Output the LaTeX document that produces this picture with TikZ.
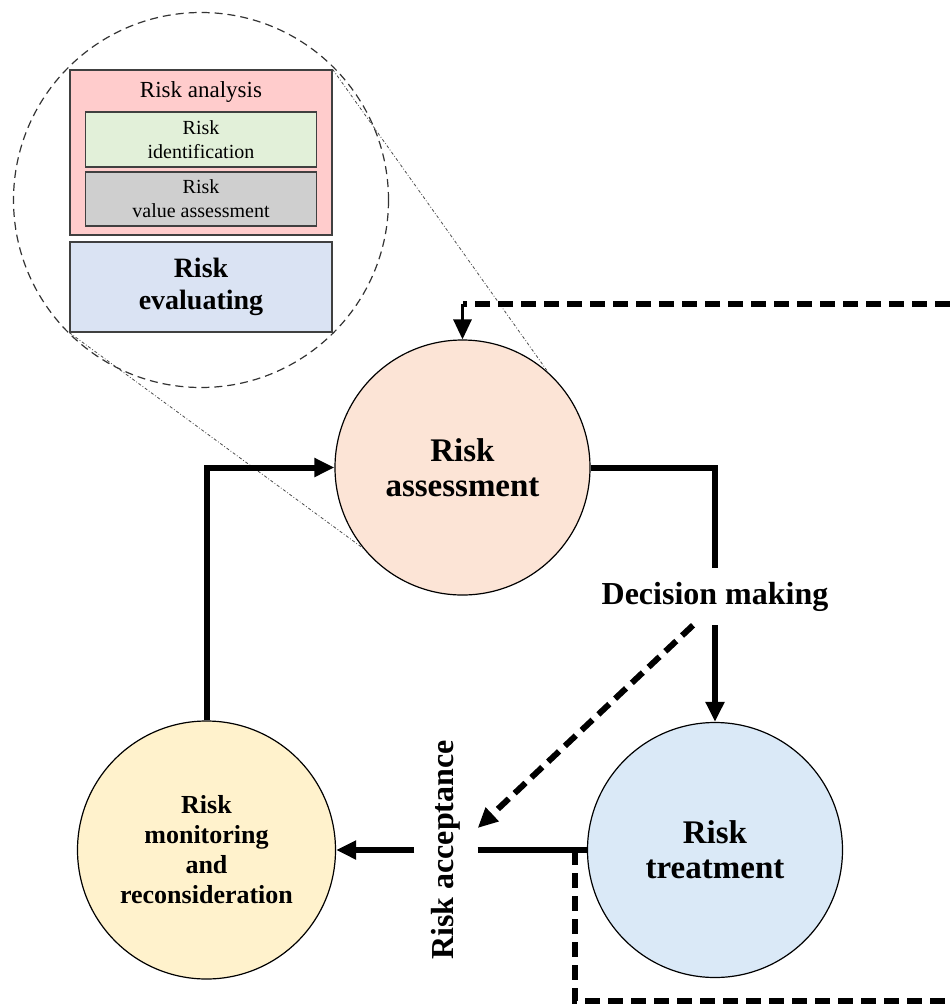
\documentclass[tikz,border=0pt]{standalone}
\usepackage{fontspec}
\setmainfont{Liberation Serif}[BoldFont={Liberation Serif Bold}]
\usetikzlibrary{arrows.meta,calc}
\tikzset{>={Triangle[length=20pt,width=18pt]}}

\definecolor{assesscol}{RGB}{252,228,214}
\definecolor{treatcol}{RGB}{218,233,247}
\definecolor{monitorcol}{RGB}{255,242,204}
\definecolor{analysiscol}{RGB}{255,204,204}
\definecolor{identcol}{RGB}{226,240,217}
\definecolor{valuecol}{RGB}{207,207,207}
\definecolor{evalcol}{RGB}{218,227,243}

\tikzset{
    stage/.style={circle,draw=black,line width=1.2pt,minimum size=255pt,
        inner sep=0pt,align=center,font=\fontsize{33}{35}\selectfont\bfseries},
    subbox/.style={draw=black!75,line width=1.3pt,inner sep=0pt,align=center},
    flow/.style={line width=6pt},
    dashflow/.style={line width=6pt,dash pattern=on 15pt off 8pt},
    zoomline/.style={black!70,line width=0.8pt,dash dot},
    lens/.style={circle,draw=black!80,line width=1.2pt,dash pattern=on 8pt off 5pt,
        minimum size=375pt,inner sep=0pt}
}

\begin{document}
\begin{tikzpicture}[x=1pt,y=-1pt]
    \useasboundingbox (0,0) rectangle (950,1007);
    \node[lens] (zoom) at (201,200) {};
    \node[subbox,fill=analysiscol,minimum width=262pt,minimum height=165pt]
        (analysis) at (201,152.5) {};
    \node[font=\fontsize{23}{26}\selectfont] (analysistitle) at (201,92) {Risk analysis};
    \node[subbox,fill=identcol,minimum width=231pt,minimum height=55pt,
        font=\fontsize{20}{24}\selectfont] (ident) at (201,139.5) {Risk\\identification};
    \node[subbox,fill=valuecol,minimum width=231pt,minimum height=54pt,
        font=\fontsize{20}{24}\selectfont] (value) at (201,199) {Risk\\value assessment};
    \node[subbox,fill=evalcol,minimum width=262pt,minimum height=90pt,
        font=\fontsize{28}{32}\selectfont\bfseries] (evaluate) at (201,287) {Risk\\evaluating};

    \node[stage,fill=assesscol] (assess) at (462.5,467.5) {Risk\\assessment};
    \node[stage,fill=treatcol] (treat) at (715,850) {Risk\\treatment};
    \node[stage,fill=monitorcol,minimum size=258pt,font=\fontsize{26}{30}\selectfont\bfseries]
        (monitor) at (206.5,850) {Risk\\monitoring\\and\\reconsideration};

    \draw[zoomline] (analysis.north east) -- (assess.48);
    \draw[zoomline] (evaluate.south west) -- (assess.219);

    \node[anchor=base,inner xsep=4pt,inner ysep=14pt,font=\fontsize{32}{36}\selectfont\bfseries]
        (decide) at (715,604) {Decision making};
    \node[rotate=90,inner sep=17pt,font=\fontsize{32}{36}\selectfont\bfseries]
        (accept) at (446,850) {Risk acceptance};

    \coordinate (topright) at (950,304);
    \coordinate (fork) at (575,850);
    \coordinate (bottomright) at (950,1001);

    \draw[->,flow] (monitor.north) |- (assess.west);
    \draw[flow] (assess.east) -| (decide.north);
    \draw[->,flow] (decide.south) -- (treat.north);
    \draw[->,dashflow] ([xshift=-22pt]decide.south) -- ([yshift=22pt]accept.south);
    \draw[flow] (accept.south) -- (treat.west);
    \draw[->,flow] (accept.north) -- (monitor.east);
    \draw[dashflow] (fork) |- (bottomright);
    \draw[dashflow] (topright) -- (assess.north |- topright);
    \draw[->,line width=3pt] (assess.north |- topright) -- (assess.north);
\end{tikzpicture}
\end{document}
